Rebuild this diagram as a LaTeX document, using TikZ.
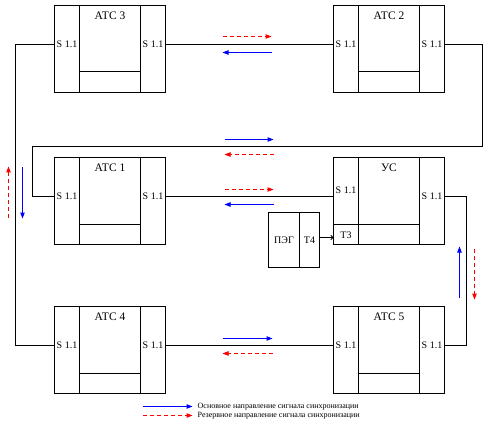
\documentclass[tikz,border=0pt]{standalone}
\usepackage{fontspec}
\setmainfont{Liberation Serif}
\usetikzlibrary{arrows.meta,calc}
\newcommand\station[5]{%
 \node[stbox] (#1) at (#2+55.5,#3+43.5) {};
 \draw[ln] ([xshift=25pt]#1.north west) -- ([xshift=25pt]#1.south west);
 \draw[ln] ([xshift=-25pt]#1.north east) -- ([xshift=-25pt]#1.south east);
 \draw[ln] ([xshift=25pt,yshift=-66.5pt]#1.north west) -- ([xshift=-25pt,yshift=-66.5pt]#1.north east);
 \node[ttl] (#1-t) at ([yshift=-10pt]#1.north) {#4};
 \node[port] (#1-pl) at ([xshift=12.5pt,yshift=-#5pt]#1.north west) {S 1.1};
 \node[port] (#1-pr) at ([xshift=-12.5pt,yshift=-39pt]#1.north east) {S 1.1};
 \coordinate (#1-l) at ([yshift=-39pt]#1.north west);
 \coordinate (#1-r) at ([yshift=-39pt]#1.north east);
}
\begin{document}
\begin{tikzpicture}[x=1pt,y=-1pt,
  stbox/.style={draw,line width=1pt,minimum width=111pt,minimum height=87pt,inner sep=0pt,outer sep=0pt},
  ln/.style={line width=1pt},
  port/.style={font=\fontsize{10}{11}\selectfont,inner sep=0pt},
  ttl/.style={font=\fontsize{11.5}{12}\selectfont,inner sep=0pt},
  lgd/.style={font=\fontsize{8}{9}\selectfont,inner sep=0pt,anchor=west},
  mainarr/.style={blue,line width=1pt,-{Triangle[length=6pt,width=4.5pt]}},
  resarr/.style={red,line width=1pt,dash pattern=on 4pt off 3pt,-{Triangle[length=6pt,width=4.5pt]}},
]
\useasboundingbox (-0.5,-0.5) rectangle (487.5,427.5);
\fill[white] (-0.5,-0.5) rectangle (487.5,427.5);

\station{a3}{54}{5}{АТС 3}{39}
\station{a2}{333}{5}{АТС 2}{39}
\station{a1}{54}{157}{АТС 1}{39}
\station{us}{333}{157}{УС}{33}
\station{a4}{54}{306}{АТС 4}{39}
\station{a5}{333}{306}{АТС 5}{39}

% US T3 cell
\draw[ln] ([yshift=-66.5pt]us.north west) -- ([xshift=25pt,yshift=-66.5pt]us.north west);
\node[port] (t3) at ([xshift=12.5pt,yshift=-77.5pt]us.north west) {Т3};

% PEG block
\node[draw,line width=1pt,minimum width=51pt,minimum height=55pt,inner sep=0pt,outer sep=0pt] (peg) at (293.5,239.5) {};
\draw[ln] ([xshift=-20pt]peg.north east) -- ([xshift=-20pt]peg.south east);
\node[port] (pegt) at (283.5,240) {ПЭГ};
\node[port] (t4) at (309,240) {Т4};
\coordinate (pegout) at (319,237);
\coordinate (t3in) at (333,237);
\draw[ln,-{To[length=3pt,width=5pt]}] (pegout) -- (t3in);

% connectors
\coordinate (c1) at (15,44);
\draw[ln] (a3-l) -- (c1) |- (a4-l);
\draw[ln] (a3-r) -- (a2-l);
\coordinate (c2) at (482,44);
\coordinate (c3) at (32,146);
\draw[ln] (a2-r) -- (c2) |- (c3) |- (a1-l);
\draw[ln] (a1-r) -- (us-l);
\coordinate (c4) at (466,196);
\draw[ln] (us-r) -- (c4) |- (a5-r);
\draw[ln] (a4-r) -- (a5-l);

% direction arrows
\draw[resarr] (222,36) -- (271,36);
\draw[mainarr] (271,52) -- (222,52);
\draw[mainarr] (224,139) -- (273,139);
\draw[resarr] (273,154) -- (224,154);
\draw[resarr] (224,189) -- (273,189);
\draw[mainarr] (273,204) -- (224,204);
\draw[mainarr] (222,338) -- (272,338);
\draw[resarr] (272,353) -- (222,353);
\draw[resarr] (8,217) -- (8,166);
\draw[mainarr] (22,167) -- (22,218);
\draw[mainarr] (459,297) -- (459,246);
\draw[resarr] (474,248) -- (474,299);

% legend
\node[lgd] (lg1) at (197,406) {Основное направление сигнала синхронизации};
\node[lgd] (lg2) at (197,415) {Резервное направление сигнала синхронизации};
\draw[mainarr] (142,406) -- (192,406);
\draw[resarr] (142,415) -- (192,415);
\end{tikzpicture}
\end{document}
